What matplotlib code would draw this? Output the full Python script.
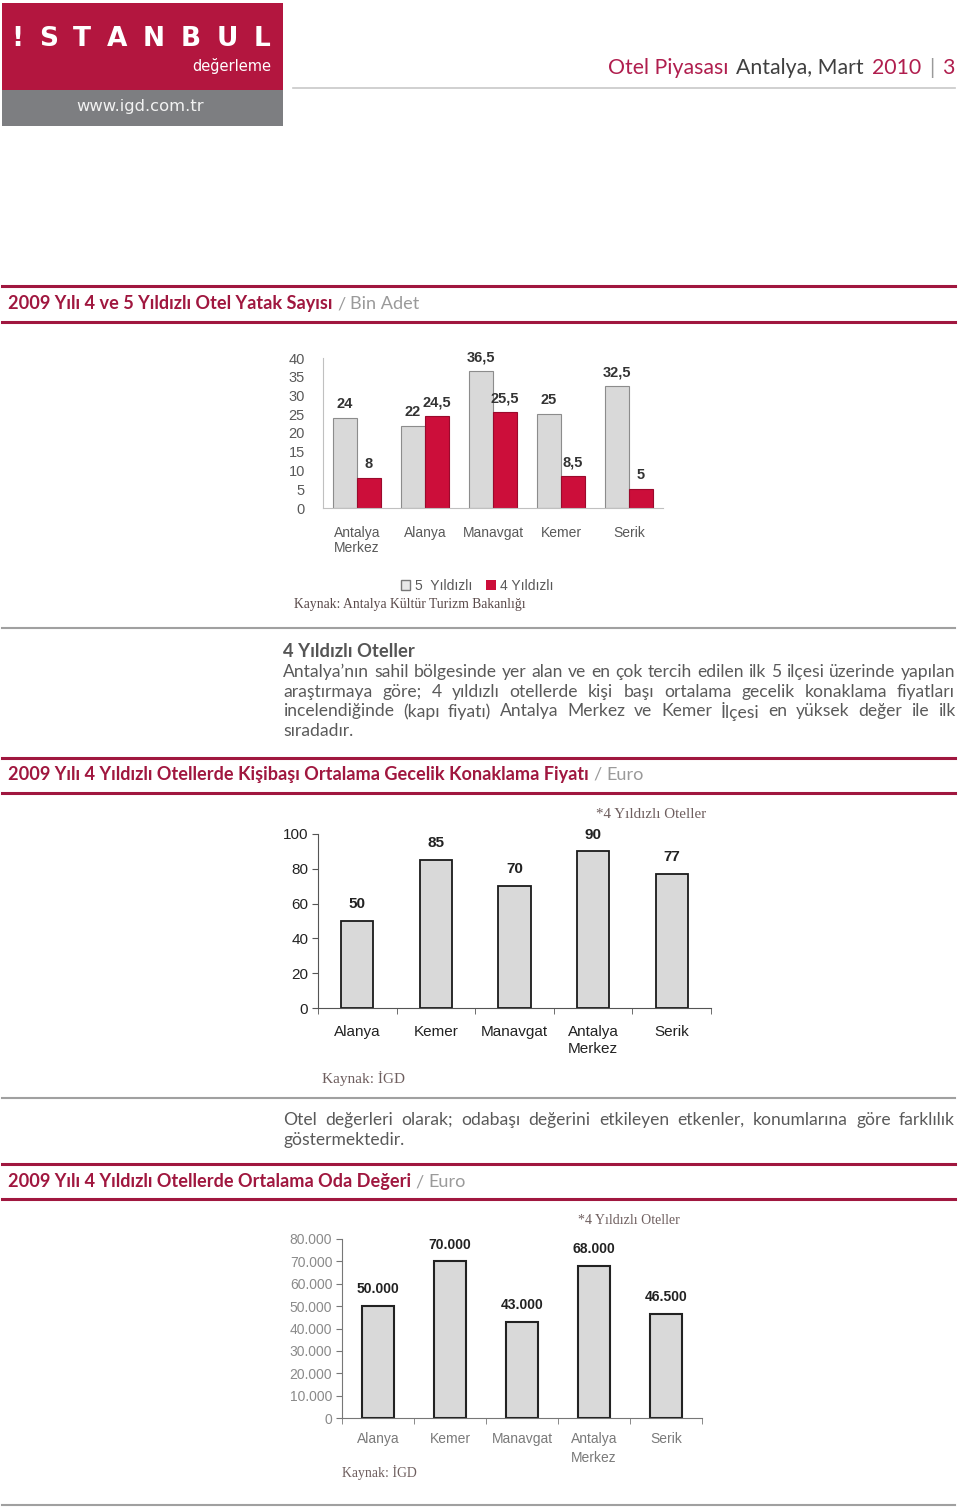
import matplotlib
matplotlib.use('Agg')
import matplotlib.pyplot as plt
from matplotlib.lines import Line2D
from matplotlib.patches import Rectangle, Patch
import numpy as np

# --- veriler ---
ilceler_yatak = ['Antalya\nMerkez', 'Alanya', 'Manavgat', 'Kemer', 'Serik']
yatak_5 = [24, 22, 36.5, 25, 32.5]
yatak_4 = [8, 24.5, 25.5, 8.5, 5]
yatak_ticks = [0, 5, 10, 15, 20, 25, 30, 35, 40]

ilceler_fiyat = ['Alanya', 'Kemer', 'Manavgat', 'Antalya\nMerkez', 'Serik']
fiyat = [50, 85, 70, 90, 77]
fiyat_ticks = [0, 20, 40, 60, 80, 100]

ilceler_oda = ['Alanya', 'Kemer', 'Manavgat', 'Antalya\nMerkez', 'Serik']
oda_degeri = [50000, 70000, 43000, 68000, 46500]
oda_ticks = [0, 10000, 20000, 30000, 40000, 50000, 60000, 70000, 80000]

paragraf1 = ["Antalya’nın sahil bölgesinde yer alan ve en çok tercih edilen ilk 5 ilçesi üzerinde yapılan",
             "araştırmaya göre; 4 yıldızlı otellerde kişi başı ortalama gecelik konaklama fiyatları",
             "incelendiğinde (kapı fiyatı) Antalya Merkez ve Kemer İlçesi en yüksek değer ile ilk",
             "sıradadır."]
paragraf2 = ["Otel değerleri olarak; odabaşı değerini etkileyen etkenler, konumlarına göre farklılık",
             "göstermektedir."]

SANS = ['Lato', 'DejaVu Sans']
ARIAL = ['Liberation Sans', 'DejaVu Sans']
SERIF = ['Liberation Serif', 'DejaVu Serif']
KIRMIZI = '#a0173f'
BAR_KIRMIZI = '#cc0e3a'
GRI_BAR = '#d9d9d9'

W, H = 960, 1508
fig = plt.figure(figsize=(W / 100, H / 100), dpi=100)
fig.patch.set_facecolor('white')
renderer = fig.canvas.get_renderer()


def px(x, y):
    return (x / W, 1 - y / H)


def axes_px(x0, y0, x1, y1):
    return fig.add_axes([x0 / W, 1 - y1 / H, (x1 - x0) / W, (y1 - y0) / H])


def hline(y, x0, x1, color, lw):
    fig.add_artist(Line2D([x0 / W, x1 / W], [1 - y / H, 1 - y / H],
                          transform=fig.transFigure, color=color, lw=lw))


def width_of(s, size, family=SANS, weight='normal'):
    t = fig.text(0, 0, s, fontsize=size, family=family, fontweight=weight)
    w = t.get_window_extent(renderer).width
    t.remove()
    return w


def space_of(size, family=SANS, weight='normal'):
    return width_of('n n', size, family, weight) - width_of('nn', size, family, weight)


def draw_segments(segs, x, y, size, ha='left', family=SANS, gap=1.0):
    # segs: (metin, renk, kalinlik)
    texts = [fig.text(0, 0, s, fontsize=size, color=c, fontweight=wt,
                      family=family, va='center') for s, c, wt in segs]
    widths = [t.get_window_extent(renderer).width for t in texts]
    sp = space_of(size, family) * gap
    total = sum(widths) + sp * (len(texts) - 1)
    if ha == 'right':
        x -= total
    for t, w in zip(texts, widths):
        t.set_position(px(x, y))
        x += w + sp
    return total


def draw_justified(words, x0, x1, y, size, color, family=SANS, weight='normal', justify=True):
    texts = [fig.text(0, 0, s, fontsize=size, color=color, fontweight=weight,
                      family=family, va='center') for s in words]
    widths = [t.get_window_extent(renderer).width for t in texts]
    if justify and len(words) > 1:
        sp = (x1 - x0 - sum(widths)) / (len(words) - 1)
    else:
        sp = space_of(size, family, weight)
    x = x0
    for t, w in zip(texts, widths):
        t.set_position(px(x, y))
        x += w + sp


def tr_ondalik(v):
    return f"{v:g}".replace('.', ',')


def tr_binlik(v):
    return f"{v:,}".replace(',', '.')


# --- logo ve sayfa basligi ---
fig.add_artist(Rectangle(px(2, 90), 281 / W, 87 / H, transform=fig.transFigure,
                         facecolor='#b3163f', edgecolor='none'))
fig.add_artist(Rectangle(px(2, 126), 281 / W, 36 / H, transform=fig.transFigure,
                         facecolor='#7d7e81', edgecolor='none'))
draw_justified(list('!STANBUL'), 11, 270, 39, 19, 'white', family=['DejaVu Sans'], weight='bold')
s = 10 * 97 / width_of('değerleme', 10, ['DejaVu Sans'])
fig.text(*px(271, 66), 'değerleme', fontsize=min(s, 10.5), color='white', family=['DejaVu Sans'],
         ha='right', va='center')
s = 10 * 128 / width_of('www.igd.com.tr', 10, ['DejaVu Sans'])
fig.text(*px(140, 106), 'www.igd.com.tr', fontsize=s, color='#f2f2f2', family=['DejaVu Sans'],
         ha='center', va='center')

hline(88, 293, 955, '#c8c8c8', 1.2)
baslik = [('Otel Piyasası', '#b01e4e', 'normal'), ('Antalya, Mart', '#404040', 'normal'),
          ('2010', '#b01e4e', 'normal'), ('|', '#9a9a9a', 'normal'), ('3', '#b01e4e', 'normal')]
w10 = sum(width_of(t, 10) for t, _, _ in baslik) + 4 * space_of(10) * 1.4
draw_segments(baslik, 954, 68, 10 * 344 / w10, ha='right', gap=1.4)

# --- bolum basliklari ---
h_size = 10 * 580 / width_of('2009 Yılı 4 Yıldızlı Otellerde Kişibaşı Ortalama Gecelik Konaklama Fiyatı',
                             10, weight='bold')


def bolum(y_text, y_top, y_bot, ana, birim):
    hline(y_top, 2, 955, KIRMIZI, 2.2)
    hline(y_bot, 2, 955, KIRMIZI, 2.2)
    draw_segments([(ana, KIRMIZI, 'bold'), ('/', '#9a9a9a', 'normal'), (birim, '#9a9a9a', 'normal')],
                  8, y_text, h_size)


bolum(304, 286, 322, '2009 Yılı 4 ve 5 Yıldızlı Otel Yatak Sayısı', 'Bin Adet')
bolum(775, 758, 793, '2009 Yılı 4 Yıldızlı Otellerde Kişibaşı Ortalama Gecelik Konaklama Fiyatı', 'Euro')
bolum(1182, 1164, 1199, '2009 Yılı 4 Yıldızlı Otellerde Ortalama Oda Değeri', 'Euro')

hline(628, 2, 955, '#a0a0a0', 1.5)
hline(1098, 2, 955, '#a0a0a0', 1.5)
hline(1505, 2, 955, '#a0a0a0', 1.5)

# --- paragraflar ---
p_size = 10 * 672 / max(width_of(l, 10) for l in paragraf1 + paragraf2) * 0.985
fig.text(*px(283, 652), '4 Yıldızlı Oteller', fontsize=p_size * 1.05, color='#555555',
         fontweight='bold', family=SANS, va='center')
for i, l in enumerate(paragraf1):
    draw_justified(l.split(), 283, 955, 672 + i * 19.7, p_size, '#5a5a5a',
                   justify=i < len(paragraf1) - 1)
for i, l in enumerate(paragraf2):
    draw_justified(l.split(), 283, 955, 1120 + i * 19.5, p_size, '#5a5a5a',
                   justify=i < len(paragraf2) - 1)

# --- grafik 1: yatak sayisi ---
ax1 = axes_px(323, 358, 663, 508)
x = np.arange(len(ilceler_yatak))
bw = 0.35
b5 = ax1.bar(x - bw / 2, yatak_5, bw, color=GRI_BAR, edgecolor='#8c8c8c', lw=0.8)
b4 = ax1.bar(x + bw / 2, yatak_4, bw, color=BAR_KIRMIZI, edgecolor='#9a0a2c', lw=0.8)
ax1.set_xlim(-0.5, len(x) - 0.5)
ax1.set_ylim(0, 40)
for bars, vals in [(b5, yatak_5), (b4, yatak_4)]:
    for b, v in zip(bars, vals):
        ax1.annotate(tr_ondalik(v), (b.get_x() + b.get_width() / 2, v), xytext=(0, 5),
                     textcoords='offset points', ha='center', va='bottom',
                     fontsize=10.5, fontweight='bold', color='#333333', family=ARIAL,
                     annotation_clip=False)
ax1.set_yticks(yatak_ticks)
ax1.set_xticks(x, ilceler_yatak)
ax1.tick_params(axis='y', length=0, pad=13, labelsize=10.5, labelcolor='#595959')
ax1.tick_params(axis='x', length=0, pad=13, labelsize=10, labelcolor='#595959')
for lab in ax1.get_xticklabels() + ax1.get_yticklabels():
    lab.set_family(ARIAL)
    lab.set_linespacing(1.1)
for sp in ['top', 'right']:
    ax1.spines[sp].set_visible(False)
for sp in ['left', 'bottom']:
    ax1.spines[sp].set_color('#c0c0c0')
fig.legend([Patch(facecolor='#e8e8e8', edgecolor='#777777'), Patch(facecolor=BAR_KIRMIZI)],
           ['5  Yıldızlı', '4 Yıldızlı'], loc='center', bbox_to_anchor=px(477, 586),
           ncol=2, frameon=False, handlelength=0.7, handleheight=0.7, handletextpad=0.3,
           columnspacing=1.0, labelcolor='#595959', prop=dict(family=ARIAL, size=10))
fig.text(*px(294, 605), 'Kaynak: Antalya Kültür Turizm Bakanlığı', fontsize=9.8, color='#5a4a4a',
         family=SERIF, va='center')

# --- grafik 2: gecelik fiyat ---
ax2 = axes_px(318, 834, 711, 1008)
x = np.arange(len(ilceler_fiyat))
bars = ax2.bar(x, fiyat, 0.41, color=GRI_BAR, edgecolor='#1a1a1a', lw=1.3)
ax2.set_xlim(-0.5, len(x) - 0.5)
ax2.set_ylim(0, 100)
for b, v in zip(bars, fiyat):
    ax2.annotate(str(v), (b.get_x() + b.get_width() / 2, v), xytext=(0, 7),
                 textcoords='offset points', ha='center', va='bottom',
                 fontsize=11, fontweight='bold', color='#222222', family=ARIAL,
                 annotation_clip=False)
ax2.set_yticks(fiyat_ticks)
ax2.set_xticks(x, ilceler_fiyat)
ax2.set_xticks(np.arange(-0.5, len(x), 1), minor=True)
ax2.tick_params(axis='y', direction='out', length=4, color='#555555', pad=3,
                labelsize=11, labelcolor='#222222')
ax2.tick_params(axis='x', which='major', length=0, pad=12, labelsize=11, labelcolor='#222222')
ax2.tick_params(axis='x', which='minor', direction='out', length=4, color='#555555')
for lab in ax2.get_xticklabels() + ax2.get_yticklabels():
    lab.set_family(ARIAL)
    lab.set_linespacing(1.3)
for sp in ['top', 'right']:
    ax2.spines[sp].set_visible(False)
for sp in ['left', 'bottom']:
    ax2.spines[sp].set_color('#555555')
fig.text(*px(706, 815), '*4 Yıldızlı Oteller', fontsize=10.8, color='#6e5e5e', family=SERIF,
         ha='right', va='center')
fig.text(*px(322, 1079), 'Kaynak: İGD', fontsize=11, color='#6e5e5e', family=SERIF, va='center')

# --- grafik 3: oda degeri ---
ax3 = axes_px(342, 1239, 702, 1418)
x = np.arange(len(ilceler_oda))
bars = ax3.bar(x, oda_degeri, 0.44, color=GRI_BAR, edgecolor='#222222', lw=1.5)
ax3.set_xlim(-0.5, len(x) - 0.5)
ax3.set_ylim(0, 80000)
for b, v in zip(bars, oda_degeri):
    ax3.annotate(tr_binlik(v), (b.get_x() + b.get_width() / 2, v), xytext=(0, 7),
                 textcoords='offset points', ha='center', va='bottom',
                 fontsize=10, fontweight='bold', color='#222222', family=ARIAL,
                 annotation_clip=False)
ax3.set_yticks(oda_ticks, [tr_binlik(t) for t in oda_ticks])
ax3.set_xticks(x, ilceler_oda)
ax3.set_xticks(np.arange(-0.5, len(x), 1), minor=True)
ax3.tick_params(axis='y', direction='out', length=4, color='#777777', pad=3,
                labelsize=10, labelcolor='#8a8a8a')
ax3.tick_params(axis='x', which='major', length=0, pad=10, labelsize=10, labelcolor='#7a7a7a')
ax3.tick_params(axis='x', which='minor', direction='out', length=4, color='#777777')
for lab in ax3.get_xticklabels() + ax3.get_yticklabels():
    lab.set_family(ARIAL)
    lab.set_linespacing(1.5)
for sp in ['top', 'right']:
    ax3.spines[sp].set_visible(False)
for sp in ['left', 'bottom']:
    ax3.spines[sp].set_color('#777777')
fig.text(*px(680, 1221), '*4 Yıldızlı Oteller', fontsize=10, color='#6e5e5e', family=SERIF,
         ha='right', va='center')
fig.text(*px(342, 1472), 'Kaynak: İGD', fontsize=9.9, color='#6e5e5e', family=SERIF, va='center')

fig.savefig('out.png', dpi=100)
